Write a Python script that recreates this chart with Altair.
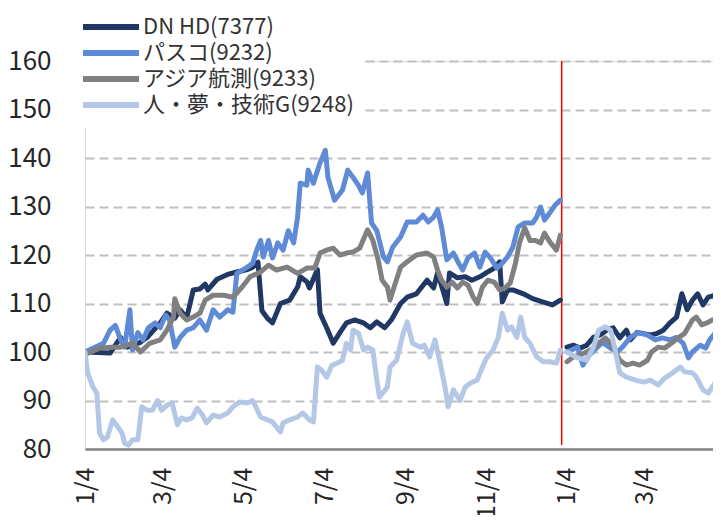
import altair as alt
import pandas as pd

FONT = "Noto Sans CJK JP"

series_names = ["DN HD(7377)", "パスコ(9232)", "アジア航測(9233)", "人・夢・技術G(9248)"]
series_colors = ["#203864", "#5f8bd6", "#808080", "#b4c7e7"]

# ---- DN HD(7377) ----
dn_y1_dates = ["2021-01-04","2021-01-23","2021-01-31","2021-02-05","2021-02-15","2021-02-20","2021-03-02","2021-03-07",
               "2021-03-13","2021-03-17","2021-03-22","2021-03-27","2021-04-01","2021-04-05","2021-04-07","2021-04-14",
               "2021-04-22","2021-04-29","2021-05-07","2021-05-11","2021-05-15","2021-05-18","2021-05-22","2021-05-26",
               "2021-06-01","2021-06-08","2021-06-14","2021-06-16","2021-06-21","2021-06-23","2021-06-29","2021-07-01",
               "2021-07-06","2021-07-11","2021-07-16","2021-07-21","2021-07-27","2021-08-03","2021-08-08","2021-08-13",
               "2021-08-19","2021-08-24","2021-08-31","2021-09-05","2021-09-12","2021-09-20","2021-09-25","2021-09-28",
               "2021-10-02","2021-10-05","2021-10-07","2021-10-13","2021-10-19","2021-10-24","2021-10-30","2021-11-05",
               "2021-11-10","2021-11-14","2021-11-16","2021-11-20","2021-11-24","2021-12-02","2021-12-09","2021-12-17",
               "2021-12-24","2021-12-30"]
dn_y1_vals = [100, 99.8, 103, 101, 102, 103, 106, 108,
              107, 108.7, 107, 112.8, 113, 114, 112.8, 115,
              116, 116.5, 117, 117.5, 118.5, 108.5, 107, 106,
              110, 110.7, 113.4, 115.5, 114.5, 113.2, 117, 108,
              105, 101.8, 104, 106, 106.6, 106, 105, 106.2,
              105, 106.6, 110, 111.3, 112, 114.8, 113.2, 116.3,
              112.8, 110, 116.3, 115.3, 115.5, 114.8, 115.5, 116.5,
              117.3, 118.6, 110.3, 112.8, 112.8, 112, 111, 110.3,
              109.7, 110.7]
dn_y2_dates = ["2022-01-04","2022-01-09","2022-01-14","2022-01-19","2022-01-24","2022-01-29","2022-02-03","2022-02-08",
               "2022-02-13","2022-02-18","2022-02-21","2022-02-26","2022-03-03","2022-03-08","2022-03-13","2022-03-18",
               "2022-03-23","2022-03-28","2022-04-01","2022-04-05","2022-04-09","2022-04-13","2022-04-17","2022-04-21",
               "2022-04-26","2022-04-30"]
dn_y2_vals = [101, 101.4, 100.8, 101.4, 103, 103.5, 104.5, 105,
              102.9, 104.5, 102.5, 104, 103.8, 103.5, 103.8, 104.5,
              106, 107.2, 112, 108.7, 110.7, 112, 109.7, 111.3,
              111.7, 111]

# ---- パスコ(9232) ----
pa_y1_dates = ["2021-01-04","2021-01-18","2021-01-23","2021-01-27","2021-01-31","2021-02-03","2021-02-07","2021-02-09",
               "2021-02-13","2021-02-17","2021-02-21","2021-02-26","2021-03-02","2021-03-06","2021-03-09","2021-03-13",
               "2021-03-17","2021-03-22","2021-03-27","2021-04-01","2021-04-06","2021-04-11","2021-04-16","2021-04-22",
               "2021-04-26","2021-04-29","2021-05-07","2021-05-11","2021-05-14","2021-05-17","2021-05-19","2021-05-23",
               "2021-05-26","2021-05-30","2021-06-03","2021-06-07","2021-06-11","2021-06-14","2021-06-16","2021-06-21",
               "2021-06-22","2021-06-26","2021-07-01","2021-07-05","2021-07-07","2021-07-12","2021-07-18","2021-07-22",
               "2021-07-26","2021-07-30","2021-08-02","2021-08-06","2021-08-09","2021-08-13","2021-08-18","2021-08-21",
               "2021-08-25","2021-08-31","2021-09-05","2021-09-12","2021-09-17","2021-09-21","2021-09-25","2021-09-28",
               "2021-10-01","2021-10-05","2021-10-10","2021-10-14","2021-10-17","2021-10-21","2021-10-26","2021-10-30",
               "2021-11-03","2021-11-07","2021-11-12","2021-11-16","2021-11-20","2021-11-24","2021-11-28","2021-12-03",
               "2021-12-09","2021-12-12","2021-12-15","2021-12-18","2021-12-22","2021-12-26","2021-12-30"]
pa_y1_vals = [100, 101.8, 104.5, 105.5, 102.5, 101, 108.7, 100.4,
              104, 102.5, 105, 106, 105, 107.6, 106.6, 101,
              103, 104.5, 105, 106.6, 104.5, 108.7, 107.2, 108.7,
              108.2, 116.2, 117.5, 118.3, 121, 123, 119.6, 123,
              119.4, 122.5, 121, 125, 122.5, 127.8, 134.8, 134.4,
              137.5, 134.8, 139, 141.6, 136, 131.3, 133.4, 137.5,
              136, 134.4, 132.8, 136.9, 126.6, 125, 119.6, 118.6,
              121.6, 123.7, 126.8, 126.8, 128.2, 126.8, 127.8, 129.3,
              125.8, 119, 120.4, 118.3, 116.9, 119.4, 120.4, 117.5,
              120.6, 119.4, 117.3, 118.3, 119.6, 121.6, 125.8, 126.6,
              126.6, 127.8, 129.9, 127.2, 128.7, 130.3, 131.3]
pa_y2_dates = ["2022-01-04","2022-01-12","2022-01-16","2022-01-21","2022-01-27","2022-01-31","2022-02-06","2022-02-11",
               "2022-02-15","2022-02-21","2022-02-27","2022-03-06","2022-03-12","2022-03-17","2022-03-23","2022-03-28",
               "2022-04-02","2022-04-06","2022-04-09","2022-04-15","2022-04-19","2022-04-22","2022-04-28","2022-05-01"]
pa_y2_vals = [100, 101, 97.3, 99.4, 101, 102, 100.8, 100,
              101, 103, 104, 103.5, 102.5, 102.9, 102.5, 103,
              101.8, 98.8, 100, 101.4, 100.8, 102.5, 104.5, 107.5]

# ---- アジア航測(9233) ----
as_y1_dates = ["2021-01-04","2021-01-15","2021-01-23","2021-01-31","2021-02-05","2021-02-09","2021-02-15","2021-02-22",
               "2021-03-02","2021-03-07","2021-03-12","2021-03-13","2021-03-17","2021-03-22","2021-03-27","2021-04-01",
               "2021-04-05","2021-04-11","2021-04-19","2021-04-26","2021-05-03","2021-05-09","2021-05-17","2021-05-23",
               "2021-05-29","2021-06-06","2021-06-14","2021-06-21","2021-06-27","2021-07-01","2021-07-06","2021-07-11",
               "2021-07-16","2021-07-21","2021-07-26","2021-07-31","2021-08-06","2021-08-10","2021-08-14","2021-08-17",
               "2021-08-21","2021-08-23","2021-08-27","2021-08-31","2021-09-05","2021-09-12","2021-09-20","2021-09-25",
               "2021-09-28","2021-10-01","2021-10-05","2021-10-09","2021-10-13","2021-10-17","2021-10-21","2021-10-25",
               "2021-10-28","2021-11-01","2021-11-05","2021-11-10","2021-11-14","2021-11-18","2021-11-22","2021-11-26",
               "2021-11-29","2021-12-03","2021-12-07","2021-12-11","2021-12-15","2021-12-18","2021-12-22","2021-12-27",
               "2021-12-30"]
as_y1_vals = [99.5, 100.8, 101, 101, 101.4, 101.8, 100, 101.8,
              102.5, 104.5, 107.2, 111, 108, 106.6, 107.2, 108,
              110.7, 111.7, 111.7, 111.3, 113.4, 115.5, 116.5, 117.9,
              116.9, 117.5, 116.2, 117.3, 117.3, 120.4, 121, 121.4,
              120, 120.4, 120.6, 121.4, 125.2, 123, 119, 114.8,
              113.4, 110.7, 114.2, 117.5, 118.6, 120, 120.4, 119.6,
              116.9, 114.8, 113.4, 114.4, 113.2, 114.4, 113.8, 111.3,
              110, 113.4, 114.8, 114.4, 112.8, 113.2, 114.2, 118.3,
              122.5, 125.6, 123, 123, 122.5, 124.5, 122.7, 121,
              124.1]
as_y2_dates = ["2022-01-04","2022-01-09","2022-01-14","2022-01-19","2022-01-24","2022-01-29","2022-02-02","2022-02-06",
               "2022-02-09","2022-02-13","2022-02-18","2022-02-23","2022-02-28","2022-03-06","2022-03-09","2022-03-14",
               "2022-03-19","2022-03-25","2022-03-29","2022-04-03","2022-04-09","2022-04-12","2022-04-16","2022-04-20",
               "2022-04-24","2022-04-28","2022-05-01"]
as_y2_vals = [98, 99, 99.4, 100, 100.8, 102, 102.9, 101.8,
              100.4, 98.3, 97.3, 97.7, 97.3, 98.3, 100, 101,
              100.8, 102, 102.9, 103.8, 106.6, 107.2, 105.6, 106,
              106.6, 106.6, 106.2]

# ---- 人・夢・技術G(9248) ----
hy_y1_dates = ["2021-01-04","2021-01-06","2021-01-10","2021-01-13","2021-01-15","2021-01-18","2021-01-21","2021-01-25",
               "2021-01-29","2021-02-01","2021-02-03","2021-02-06","2021-02-09","2021-02-13","2021-02-16","2021-02-20",
               "2021-02-24","2021-02-28","2021-03-03","2021-03-07","2021-03-11","2021-03-15","2021-03-18","2021-03-22",
               "2021-03-26","2021-03-30","2021-04-03","2021-04-06","2021-04-11","2021-04-16","2021-04-22","2021-04-26",
               "2021-05-01","2021-05-07","2021-05-11","2021-05-17","2021-05-22","2021-05-26","2021-06-01","2021-06-03",
               "2021-06-08","2021-06-14","2021-06-18","2021-06-23","2021-06-26","2021-06-29","2021-07-02","2021-07-06",
               "2021-07-10","2021-07-14","2021-07-18","2021-07-21","2021-07-24","2021-07-26","2021-07-30","2021-08-03",
               "2021-08-06","2021-08-10","2021-08-13","2021-08-15","2021-08-21","2021-08-23","2021-08-28","2021-09-02",
               "2021-09-05","2021-09-09","2021-09-15","2021-09-18","2021-09-22","2021-09-26","2021-09-30","2021-10-04",
               "2021-10-06","2021-10-10","2021-10-15","2021-10-19","2021-10-23","2021-10-28","2021-11-01","2021-11-04",
               "2021-11-09","2021-11-13","2021-11-16","2021-11-20","2021-11-23","2021-11-27","2021-11-30","2021-12-03",
               "2021-12-07","2021-12-12","2021-12-17","2021-12-22","2021-12-27","2021-12-30"]
hy_y1_vals = [100, 95.7, 92.8, 91.5, 83.3, 81.9, 82.5, 86,
              84.5, 83.3, 81.2, 80.8, 81.9, 81.9, 88.7, 88,
              88, 90, 88, 89, 89.5, 85, 86.4, 86,
              86.4, 88.4, 87, 85.4, 87, 86.6, 87.4, 88.7,
              89.7, 89.5, 90, 86.6, 86, 85.6, 83.5, 85.4,
              86, 86.6, 87.4, 86, 85.6, 96.9, 96.3, 94.8,
              97.3, 97.7, 98.3, 101.8, 100.4, 104.5, 103.9, 100.4,
              101, 100.4, 94.2, 90.7, 92.8, 96.9, 98.3, 103.9,
              106.2, 101.8, 101, 101.4, 99, 102.5, 97.7, 92.2,
              88.7, 92.2, 90, 92.8, 93.6, 94.2, 96.9, 98.7,
              100.4, 103, 108, 104.5, 105.2, 103, 107.2, 103,
              101.8, 99, 98, 98, 97.7, 100.4]
hy_y2_dates = ["2022-01-04","2022-01-12","2022-01-19","2022-01-24","2022-01-28","2022-02-02","2022-02-06","2022-02-09",
               "2022-02-13","2022-02-18","2022-02-25","2022-03-03","2022-03-08","2022-03-14","2022-03-19","2022-03-25",
               "2022-03-31","2022-04-03","2022-04-09","2022-04-12","2022-04-17","2022-04-21","2022-04-26","2022-05-01"]
hy_y2_vals = [100, 98.8, 98.3, 101, 104.5, 105.2, 104.5, 101,
              95.7, 94.8, 94.2, 93.8, 94.2, 93.2, 94.6, 95.7,
              96.9, 95.9, 95.7, 94.8, 92.2, 91.5, 93.6, 94.6]

x_tick_dates = [(2021, 1), (2021, 3), (2021, 5), (2021, 7), (2021, 9), (2021, 11), (2022, 1), (2022, 3)]
y_ticks = [80, 90, 100, 110, 120, 130, 140, 150, 160]
divider_date = "2021-12-31"

# ---- build table ----
rows = []
blocks = [
    (series_names[0], dn_y1_dates, dn_y1_vals), (series_names[0], dn_y2_dates, dn_y2_vals),
    (series_names[1], pa_y1_dates, pa_y1_vals), (series_names[1], pa_y2_dates, pa_y2_vals),
    (series_names[2], as_y1_dates, as_y1_vals), (series_names[2], as_y2_dates, as_y2_vals),
    (series_names[3], hy_y1_dates, hy_y1_vals), (series_names[3], hy_y2_dates, hy_y2_vals),
]
for i, (name, ds, vs) in enumerate(blocks):
    for d, v in zip(ds, vs):
        rows.append({"date": d, "value": v, "series": name, "seg": f"{i:02d}", "order": i})
df = pd.DataFrame(rows)

x_domain = [alt.DateTime(year=2021, month=1, date=4, utc=True),
            alt.DateTime(year=2022, month=4, date=24, hours=14, utc=True)]
x_values = [alt.DateTime(year=y, month=m, date=4, utc=True) for y, m in x_tick_dates]

x_enc = alt.X("date:T", scale=alt.Scale(type="utc", domain=x_domain),
              axis=alt.Axis(values=x_values, labelExpr="utcFormat(datum.value, '%-m/%-d')",
                            labelAngle=270, labelFontSize=25, labelFont=FONT, labelColor="#262626",
                            labelPadding=18, ticks=False, grid=False, domainColor="#808080",
                            domainWidth=2.5, title=None, labelOverlap=False, labelFlush=False))
y_enc = alt.Y("value:Q", scale=alt.Scale(domain=[80, 160], nice=False, zero=False),
              axis=alt.Axis(values=y_ticks, labelFontSize=26, labelFont=FONT, labelColor="#262626",
                            labelPadding=34, ticks=False, domain=False, grid=True,
                            gridColor="#bfbfbf", gridDash=[9, 5], gridWidth=2,
                            gridOpacity=alt.condition("datum.value == 80", alt.value(0), alt.value(1)),
                            title=None))

lines = alt.Chart(df).mark_line(strokeWidth=5, strokeCap="round", strokeJoin="round", clip=True).encode(
    x=x_enc,
    y=y_enc,
    color=alt.Color("series:N", scale=alt.Scale(domain=series_names, range=series_colors),
                    legend=alt.Legend(title=None, orient="none", legendX=-15, legendY=-57,
                                      direction="vertical", symbolType="stroke", symbolSize=3136,
                                      symbolStrokeWidth=6, labelFont=FONT, labelFontSize=22,
                                      labelColor="#333333", labelLimit=400, rowPadding=0,
                                      clipHeight=26, labelOffset=1, fillColor="white", padding=10)),
    detail="seg:N",
    order="order:Q",
)

divider = alt.Chart(pd.DataFrame({"date": [divider_date], "top": [160], "bottom": [80.8]})).mark_rule(
    color="#ff0000", strokeWidth=1.5).encode(x="date:T", y="top:Q", y2="bottom:Q")

chart = alt.layer(divider, lines).properties(
    width=628, height=388,
    autosize=alt.AutoSizeParams(type="none"),
    padding={"left": 77, "top": 53, "right": 0, "bottom": 66},
).configure_view(stroke=None).configure(background="white")

chart.save("out.html", embed_options={"renderer": "svg", "actions": False})
